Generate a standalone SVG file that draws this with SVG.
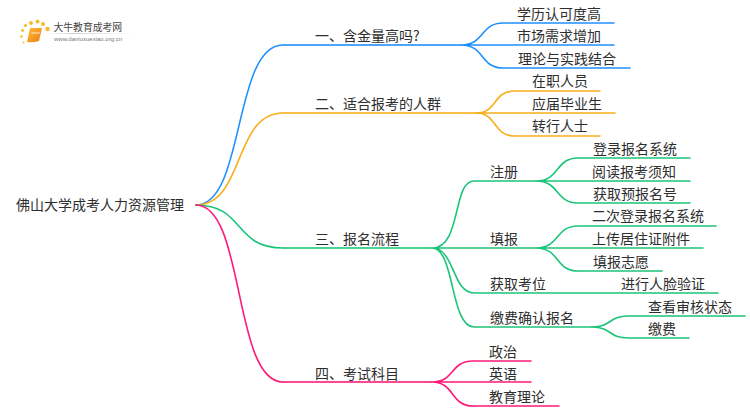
<svg xmlns="http://www.w3.org/2000/svg" width="750" height="410" viewBox="0 0 750 410">
<style>
text{font-family:"Noto Sans CJK SC","Noto Sans",sans-serif;font-size:14px;fill:#2e2e2e}
.c{fill:none;stroke-width:1.6;stroke-linecap:round}
.m{fill:none;stroke-width:2.200;stroke-opacity:.8}
.b{stroke:#1e90ff}.o{stroke:#f9ae1c}.g{stroke:#1cc47a}.p{stroke:#ff1a7a}
.d{fill:#f9b92c}
</style>
<defs>
<linearGradient id="lg" x1="0" x2="1" y1="0" y2="0"><stop offset="0" stop-color="#ddd" stop-opacity="0"/><stop offset=".3" stop-color="#ccc"/><stop offset="1" stop-color="#ddd" stop-opacity="0"/></linearGradient>
<linearGradient id="bk" x1="0" x2="1" y1="0" y2="1"><stop offset="0" stop-color="#fcbf3a"/><stop offset="1" stop-color="#ee7d10"/></linearGradient>
</defs>
<rect width="750" height="410" fill="#fff"/>
<g id="logo">
<circle class="d" cx="31" cy="23" r="2"/><circle class="d" cx="37.500" cy="21.500" r="2"/><circle class="d" cx="25.500" cy="25.500" r="1.600"/><circle class="d" cx="22.500" cy="30.500" r="1.400"/><circle class="d" cx="21.500" cy="36.500" r="1.200"/><circle class="d" cx="23.500" cy="42.500" r="1"/><circle class="d" cx="43" cy="24" r="2"/><circle class="d" cx="47.500" cy="29" r="2.200"/>
<path d="M30 28H42L39 41Q33 43 27 42Z" fill="url(#bk)"/><path d="M31.500 33H40" stroke="#fff" stroke-width=".8" fill="none"/>
<rect x="46" y="33" width="88" height="1" fill="url(#lg)"/>
<text x="53.500" y="31" style="font-size:9.800px;fill:#444">大牛教育成考网</text>
<text x="54" y="41" style="font-size:6px;fill:#777;font-family:'Liberation Sans',sans-serif">www.daniuxuexiao.org.cn</text>
</g>
<g id="connectors">
<path class="c b" d="M196 205C245 205 233 45 283 45"/><path class="m b" d="M283 45H461"/>
<path class="c o" d="M196 205C245 205 233 113 283 113"/><path class="m o" d="M283 113H480"/>
<path class="c g" d="M196 205C245 205 233 248 283 248"/><path class="m g" d="M283 248H432"/>
<path class="c p" d="M196 205C245 205 233 382 283 382"/><path class="m p" d="M283 382H432"/>
<path class="c b" d="M461 45C485 45 480 23 503 23H614M461 45H614M461 45C485 45 480 68 503 68H630"/>
<path class="c o" d="M476 113C498 113 492 91 515 91H600M476 113H615M476 113C498 113 492 136 515 136H600"/>
<path class="c g" d="M432 248C462 248 452 181 474 181H536M432 248H536M432 248C455 248 452 293 474 293H718M432 248C455 248 450 327 474 327H592"/>
<path class="c g" d="M536 181C560 181 555 158 578 158H690M536 181H690M536 181C560 181 555 203 578 203H690"/>
<path class="c g" d="M536 248C560 248 555 226 578 226H716M536 248H703M536 248C560 248 555 271 578 271H662"/>
<path class="c g" d="M592 327C612 327 608 316 628 316H745M592 327C612 327 608 338 628 338H689"/>
<path class="c p" d="M432 382C455 382 450 361 473 361H531M432 382H531M432 382C455 382 450 406 473 406H559"/>
</g>
<g id="root"><text x="16" y="210">佛山大学成考人力资源管理</text></g>
<g id="n1"><text x="315" y="41">一、含金量高吗?</text></g>
<g id="n1a"><text x="517" y="19">学历认可度高</text></g>
<g id="n1b"><text x="517" y="41">市场需求增加</text></g>
<g id="n1c"><text x="518" y="64">理论与实践结合</text></g>
<g id="n2"><text x="315" y="109">二、适合报考的人群</text></g>
<g id="n2a"><text x="532" y="86">在职人员</text></g>
<g id="n2b"><text x="532" y="109">应届毕业生</text></g>
<g id="n2c"><text x="532" y="131">转行人士</text></g>
<g id="n3"><text x="315" y="244">三、报名流程</text></g>
<g id="n31"><text x="490" y="177">注册</text></g>
<g id="n31a"><text x="593" y="154">登录报名系统</text></g>
<g id="n31b"><text x="592" y="177">阅读报考须知</text></g>
<g id="n31c"><text x="593" y="199">获取预报名号</text></g>
<g id="n32"><text x="490" y="244">填报</text></g>
<g id="n32a"><text x="592" y="221">二次登录报名系统</text></g>
<g id="n32b"><text x="592" y="244">上传居住证附件</text></g>
<g id="n32c"><text x="593" y="267">填报志愿</text></g>
<g id="n33"><text x="490" y="289">获取考位</text></g>
<g id="n33a"><text x="621" y="289">进行人脸验证</text></g>
<g id="n34"><text x="490" y="323">缴费确认报名</text></g>
<g id="n34a"><text x="648" y="312">查看审核状态</text></g>
<g id="n34b"><text x="648" y="334">缴费</text></g>
<g id="n4"><text x="315" y="379">四、考试科目</text></g>
<g id="n4a"><text x="489" y="357">政治</text></g>
<g id="n4b"><text x="489" y="379">英语</text></g>
<g id="n4c"><text x="489" y="402">教育理论</text></g>
</svg>
